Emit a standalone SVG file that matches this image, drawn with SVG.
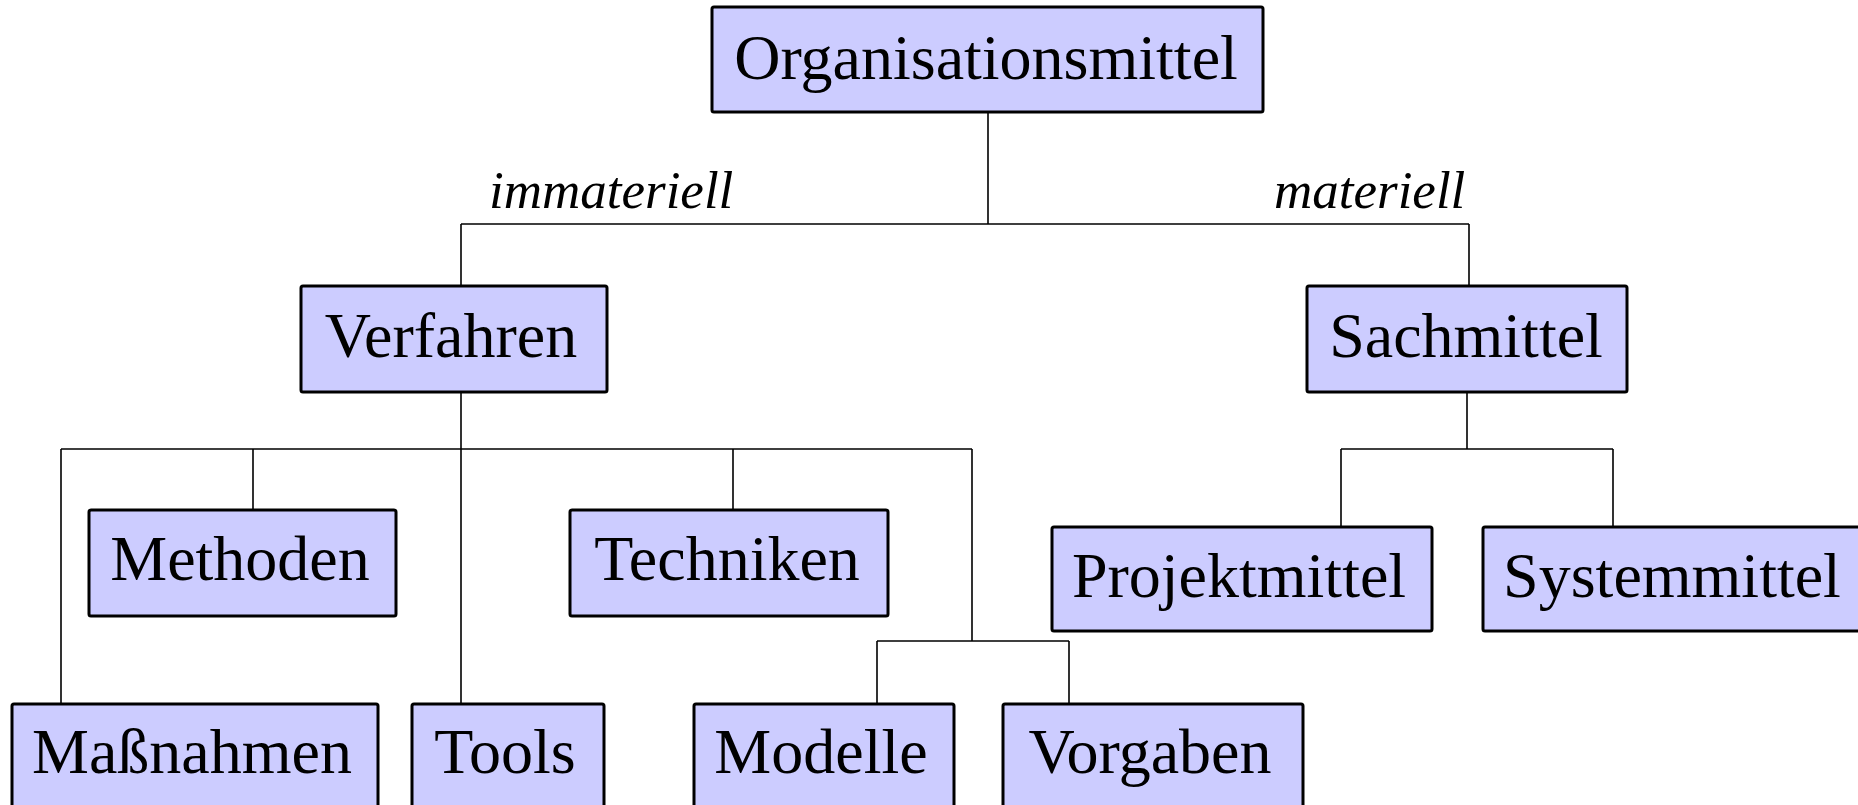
<svg xmlns="http://www.w3.org/2000/svg" width="1858" height="805" viewBox="0 0 1858 805">
<style>
.box{fill:#CCCCFF;stroke:#000;stroke-width:3}
.lbl{font-family:"Liberation Serif","Times New Roman",serif;font-size:64px;fill:#000;text-anchor:middle}
.edge{font-family:"Liberation Serif","Times New Roman",serif;font-size:53px;font-style:italic;fill:#000}
.conn{fill:none;stroke:#000;stroke-width:1.6}
</style>
<rect width="1858" height="805" fill="#fff"/>
<g id="connectors" class="conn">
<path d="M988,112 V224 M461,224 H1469 M461,224 V286 M1469,224 V286"/>
<path d="M461,392 V704 M61,449 H972 M61,449 V704 M253,449 V510 M733,449 V510 M972,449 V641 M877,641 H1069 M877,641 V704 M1069,641 V704"/>
<path d="M1467,392 V449 M1341,449 H1613 M1341,449 V527 M1613,449 V527"/>
</g>
<g id="labels">
<text class="edge" x="489" y="208">immateriell</text>
<text class="edge" x="1274" y="208">materiell</text>
</g>
<g id="n-organisationsmittel"><rect class="box" x="712" y="7" width="551" height="105" rx="2"/><text class="lbl" x="986" y="79">Organisationsmittel</text></g>
<g id="n-verfahren"><rect class="box" x="301" y="286" width="306" height="106" rx="2"/><text class="lbl" x="451" y="357">Verfahren</text></g>
<g id="n-sachmittel"><rect class="box" x="1307" y="286" width="320" height="106" rx="2"/><text class="lbl" x="1466" y="357">Sachmittel</text></g>
<g id="n-methoden"><rect class="box" x="89" y="510" width="307" height="106" rx="2"/><text class="lbl" x="240" y="580">Methoden</text></g>
<g id="n-techniken"><rect class="box" x="570" y="510" width="318" height="106" rx="2"/><text class="lbl" x="727" y="580">Techniken</text></g>
<g id="n-projektmittel"><rect class="box" x="1052" y="527" width="380" height="104" rx="2"/><text class="lbl" x="1239" y="597">Projektmittel</text></g>
<g id="n-systemmittel"><rect class="box" x="1483" y="527" width="380" height="104" rx="2"/><text class="lbl" x="1672" y="597">Systemmittel</text></g>
<g id="n-massnahmen"><rect class="box" x="12" y="704" width="366" height="106" rx="2"/><text class="lbl" x="192" y="773">Maßnahmen</text></g>
<g id="n-tools"><rect class="box" x="412" y="704" width="192" height="106" rx="2"/><text class="lbl" x="505" y="773">Tools</text></g>
<g id="n-modelle"><rect class="box" x="694" y="704" width="260" height="106" rx="2"/><text class="lbl" x="821" y="773">Modelle</text></g>
<g id="n-vorgaben"><rect class="box" x="1003" y="704" width="300" height="106" rx="2"/><text class="lbl" x="1150" y="773">Vorgaben</text></g>
</svg>
